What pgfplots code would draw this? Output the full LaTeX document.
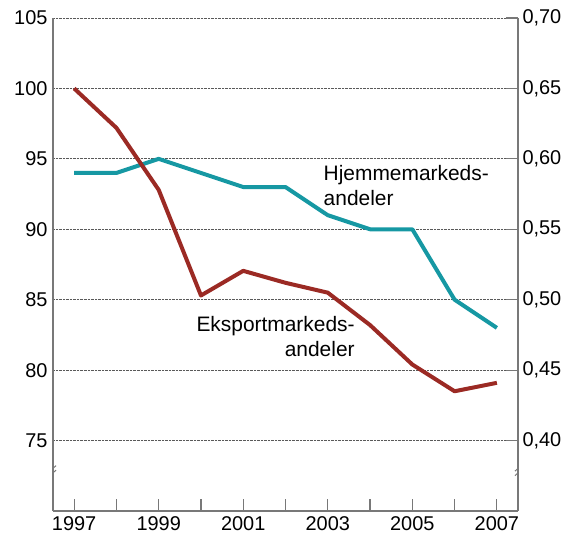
\documentclass[border=0pt]{standalone}
\usepackage{fontspec}
\setmainfont{Liberation Sans}
\usepackage{pgfplots}
\pgfplotsset{compat=1.18}
\definecolor{exred}{RGB}{155,42,36}
\definecolor{hjteal}{RGB}{22,152,163}
\definecolor{axgray}{RGB}{120,120,120}
\tikzset{brk/.style={axgray, line width=1bp}}
\begin{document}
\begin{tikzpicture}
\useasboundingbox (0,0) rectangle (569bp,540bp);
\pgfplotsset{
  common/.style={
    scale only axis,
    width=465bp, height=493bp,
    at={(53bp,29bp)}, anchor=south west,
    xmin=1996.5, xmax=2007.5,
    axis line style={-, axgray, line width=1.2bp},
    tick style={axgray, line width=1.2bp},
    major tick length=12bp,
    /pgf/number format/assume math mode=true,
    tick label style={font=\fontsize{20}{24}\selectfont},
  }
}
\begin{axis}[common,
  ymin=70, ymax=105,
  axis x line*=bottom, axis y line*=left,
  xtick={1997,1998,...,2007},
  xticklabels={1997,,1999,,2001,,2003,,2005,,2007},
  xtick pos=bottom, xtick align=inside,
  ytick={75,80,...,105},
  y tick style={draw=none},
  ymajorgrids,
  grid style={densely dotted, black!65, line width=0.8bp},
  yticklabel style={xshift=-2bp},
  xticklabel style={yshift=-2bp},
]
\addplot[hjteal, line width=4bp, line join=round] coordinates {
(1997,94) (1998,94) (1999,95) (2000,94) (2001,93) (2002,93) (2003,91) (2004,90) (2005,90) (2006,85) (2007,83)};
\addplot[exred, line width=4bp, line join=round] coordinates {
(1997,100) (1998,97.2) (1999,92.8) (2000,85.3) (2001,87.05) (2002,86.2) (2003,85.5) (2004,83.2) (2005,80.4) (2006,78.5) (2007,79.1)};
\node[anchor=west, align=left, font=\fontsize{21}{25}\selectfont, inner sep=0pt] at (axis cs:2002.9,93.1) {Hjemmemarkeds-\\andeler};
\node[anchor=east, align=right, font=\fontsize{21}{25}\selectfont, inner sep=0pt] at (axis cs:2003.64,82.4) {Eksportmarkeds-\\andeler};
% axis breaks
\coordinate (bl) at (axis cs:1996.5,72.9);
\coordinate (br) at (axis cs:2007.5,72.9);
\draw[brk] ([xshift=-3bp,yshift=-5.5bp]bl) -- ([xshift=3bp,yshift=0bp]bl);
\draw[brk] ([xshift=-3bp,yshift=-1bp]bl) -- ([xshift=3bp,yshift=4.5bp]bl);
\draw[brk] ([xshift=-3bp,yshift=-5.5bp]br) -- ([xshift=3bp,yshift=0bp]br);
\draw[brk] ([xshift=-3bp,yshift=-1bp]br) -- ([xshift=3bp,yshift=4.5bp]br);
\end{axis}
\begin{axis}[common,
  ymin=0.35, ymax=0.70,
  axis y line*=right,
  hide x axis,
  ytick={0.40,0.45,...,0.70},
  ytick align=inside,
  yticklabel style={xshift=1bp, /pgf/number format/.cd, fixed, fixed zerofill, precision=2, use comma},
]
\addplot[draw=none] coordinates {(1997,0.5)};
\end{axis}
\end{tikzpicture}
\end{document}
